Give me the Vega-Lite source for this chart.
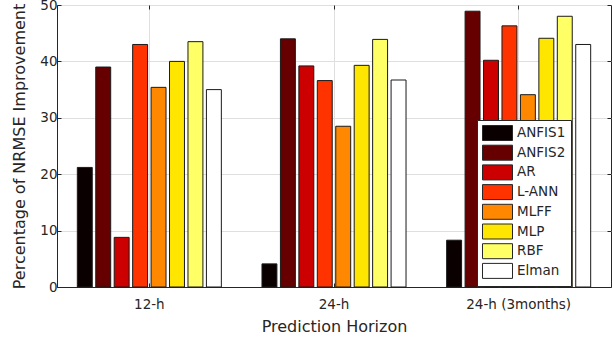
{
  "$schema": "https://vega.github.io/schema/vega-lite/v6.json",
  "width": 554,
  "height": 282,
  "autosize": "none",
  "padding": {"left": 57, "top": 5, "right": 2, "bottom": 52},
  "background": "white",
  "config": {
    "view": {"stroke": "#262626", "strokeWidth": 1},
    "font": "DejaVu Sans"
  },
  "data": {
    "values": [
      {"horizon": "12-h", "model": "ANFIS1", "value": 21.2},
      {"horizon": "12-h", "model": "ANFIS2", "value": 39.0},
      {"horizon": "12-h", "model": "AR", "value": 8.8},
      {"horizon": "12-h", "model": "L-ANN", "value": 43.0},
      {"horizon": "12-h", "model": "MLFF", "value": 35.4},
      {"horizon": "12-h", "model": "MLP", "value": 40.0},
      {"horizon": "12-h", "model": "RBF", "value": 43.5},
      {"horizon": "12-h", "model": "Elman", "value": 35.0},
      {"horizon": "24-h", "model": "ANFIS1", "value": 4.1},
      {"horizon": "24-h", "model": "ANFIS2", "value": 44.0},
      {"horizon": "24-h", "model": "AR", "value": 39.2},
      {"horizon": "24-h", "model": "L-ANN", "value": 36.6},
      {"horizon": "24-h", "model": "MLFF", "value": 28.5},
      {"horizon": "24-h", "model": "MLP", "value": 39.3},
      {"horizon": "24-h", "model": "RBF", "value": 43.9},
      {"horizon": "24-h", "model": "Elman", "value": 36.7},
      {"horizon": "24-h (3months)", "model": "ANFIS1", "value": 8.3},
      {"horizon": "24-h (3months)", "model": "ANFIS2", "value": 48.9},
      {"horizon": "24-h (3months)", "model": "AR", "value": 40.2},
      {"horizon": "24-h (3months)", "model": "L-ANN", "value": 46.3},
      {"horizon": "24-h (3months)", "model": "MLFF", "value": 34.1},
      {"horizon": "24-h (3months)", "model": "MLP", "value": 44.1},
      {"horizon": "24-h (3months)", "model": "RBF", "value": 48.0},
      {"horizon": "24-h (3months)", "model": "Elman", "value": 43.0}
    ]
  },
  "resolve": {"axis": {"x": "independent", "y": "independent"}},
  "layer": [
    {
      "mark": {"type": "bar", "stroke": "#1a1a1a", "strokeWidth": 1},
      "encoding": {
        "x": {
          "field": "horizon",
          "type": "nominal",
          "sort": ["12-h", "24-h", "24-h (3months)"],
          "scale": {"paddingInner": 0.22, "paddingOuter": 0.11},
          "axis": {
            "title": "Prediction Horizon",
            "labelAngle": 0,
            "labelFontSize": 13.5,
            "labelColor": "#262626",
            "labelPadding": 14,
            "ticks": true,
            "tickSize": -4,
            "tickColor": "#262626",
            "domainColor": "#262626",
            "grid": true,
            "gridColor": "#dfdfdf",
            "titleFontSize": 16,
            "titleFontWeight": "normal",
            "titleColor": "#262626",
            "titlePadding": 8
          }
        },
        "xOffset": {
          "field": "model",
          "type": "nominal",
          "sort": ["ANFIS1", "ANFIS2", "AR", "L-ANN", "MLFF", "MLP", "RBF", "Elman"],
          "scale": {"paddingInner": 0.19, "paddingOuter": 0}
        },
        "y": {
          "field": "value",
          "type": "quantitative",
          "scale": {"domain": [0, 50], "nice": false},
          "axis": {
            "title": "Percentage of NRMSE Improvement",
            "values": [0, 10, 20, 30, 40, 50],
            "labelFontSize": 13.5,
            "labelColor": "#262626",
            "labelPadding": 4,
            "ticks": true,
            "tickSize": -4,
            "tickColor": "#262626",
            "domainColor": "#262626",
            "grid": true,
            "gridColor": "#dfdfdf",
            "titleFontSize": 16,
            "titleFontWeight": "normal",
            "titleColor": "#262626",
            "titlePadding": 12
          }
        },
        "fill": {
          "field": "model",
          "type": "nominal",
          "sort": ["ANFIS1", "ANFIS2", "AR", "L-ANN", "MLFF", "MLP", "RBF", "Elman"],
          "scale": {
            "domain": ["ANFIS1", "ANFIS2", "AR", "L-ANN", "MLFF", "MLP", "RBF", "Elman"],
            "range": ["#0a0000", "#660000", "#cc0000", "#ff3300", "#ff8800", "#ffe600", "#ffff66", "#ffffff"]
          },
          "legend": {
            "title": null,
            "orient": "none",
            "legendX": 420,
            "legendY": 115,
            "padding": 5,
            "fillColor": "white",
            "strokeColor": "#262626",
            "cornerRadius": 0,
            "symbolType": "M-1,-1H3V1H-1Z",
            "symbolSize": 225,
            "symbolStrokeColor": "#262626",
            "symbolStrokeWidth": 1,
            "symbolOpacity": 1,
            "labelOffset": 19,
            "labelFontSize": 13.5,
            "labelColor": "#262626",
            "rowPadding": -0.3
          }
        }
      }
    },
    {
      "mark": {"type": "bar", "opacity": 0},
      "encoding": {
        "x": {
          "field": "horizon",
          "type": "nominal",
          "sort": ["12-h", "24-h", "24-h (3months)"],
          "axis": {
            "orient": "top",
            "title": null,
            "labels": false,
            "ticks": true,
            "tickSize": -4,
            "tickColor": "#262626",
            "domain": false,
            "grid": false
          }
        },
        "y": {
          "field": "value",
          "type": "quantitative",
          "axis": {
            "orient": "right",
            "title": null,
            "values": [0, 10, 20, 30, 40, 50],
            "labels": false,
            "ticks": true,
            "tickSize": -4,
            "tickColor": "#262626",
            "domain": false,
            "grid": false
          }
        }
      }
    }
  ]
}
